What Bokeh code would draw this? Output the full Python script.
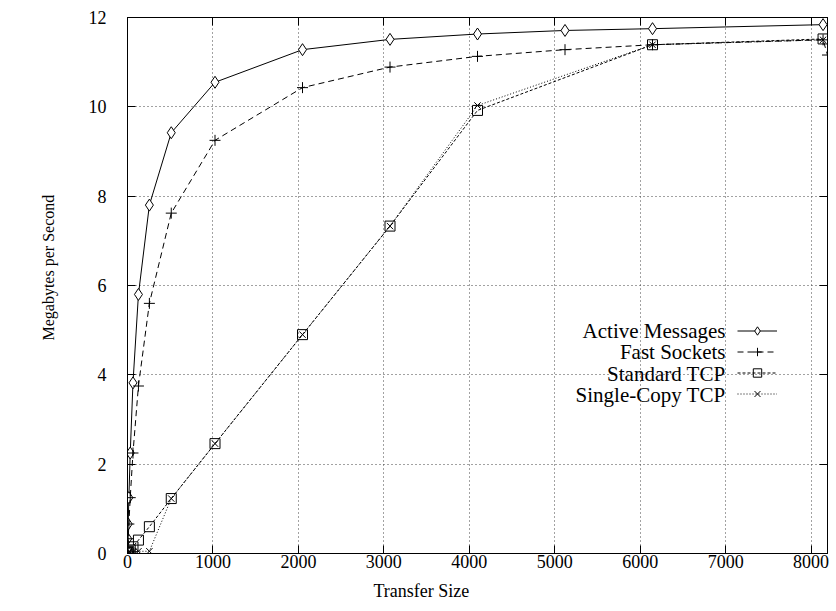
import numpy as np
from bokeh.plotting import figure
from bokeh.models import (Range1d, FixedTicker, LinearAxis, Legend, LegendItem, Label, Title)
from bokeh.embed import file_html
from bokeh.resources import INLINE

# ---- data ----
am_size = [4, 8, 16, 32, 64, 128, 256, 512, 1024, 2048, 3072, 4096, 5120, 6144, 8140]
am_mbps = [0.33, 0.66, 1.25, 2.25, 3.82, 5.80, 7.80, 9.42, 10.55, 11.28, 11.51, 11.63, 11.71, 11.75, 11.84]

fs_size = [4, 8, 16, 32, 64, 128, 256, 512, 1024, 2048, 3072, 4096, 5120, 6144, 8140, 8192]
fs_mbps = [0.17, 0.33, 0.66, 1.25, 2.25, 3.75, 5.60, 7.62, 9.25, 10.43, 10.89, 11.13, 11.28, 11.39, 11.50, 11.16]

st_size = [4, 8, 16, 32, 64, 128, 256, 512, 1024, 2048, 3072, 4096, 6144, 8140]
st_mbps = [0.01, 0.02, 0.04, 0.08, 0.15, 0.30, 0.60, 1.23, 2.46, 4.90, 7.33, 9.92, 11.39, 11.52]

sc_size = [4, 8, 16, 32, 64, 128, 256, 512, 1024, 2048, 3072, 4096, 6144, 8140]
sc_mbps = [0.01, 0.02, 0.03, 0.03, 0.04, 0.05, 0.05, 1.23, 2.46, 4.90, 7.33, 10.03, 11.39, 11.50]

x_ticks = [0, 1000, 2000, 3000, 4000, 5000, 6000, 7000, 8000]
y_ticks = [0, 2, 4, 6, 8, 10, 12]
series_names = ["Active Messages", "Fast Sockets", "Standard TCP", "Single-Copy TCP"]
x_title = "Transfer Size"
y_title = "Megabytes per Second"

FONT = "Liberation Serif"

p = figure(width=836, height=611, output_backend="svg", toolbar_location=None,
           x_range=Range1d(0, 8192), y_range=Range1d(0, 12),
           min_border_left=127, min_border_right=9, min_border_top=17, min_border_bottom=58)
p.background_fill_color = "white"
p.outline_line_color = "black"
p.outline_line_width = 1

for ax in (p.xaxis[0], p.yaxis[0]):
    ax.major_label_text_font = FONT
    ax.major_tick_in = 8
    ax.major_tick_out = 0
    ax.minor_tick_line_color = None
    ax.axis_line_color = "black"
    ax.major_tick_line_color = "black"
    ax.major_label_text_color = "black"

p.xaxis[0].ticker = FixedTicker(ticks=x_ticks)
p.yaxis[0].ticker = FixedTicker(ticks=y_ticks)
p.xaxis[0].major_label_text_font_size = "18px"
p.yaxis[0].major_label_text_font_size = "18px"
p.xaxis[0].major_label_standoff = 1
p.yaxis[0].major_label_standoff = 21

# mirrored ticks on top and right
for loc in ("above", "right"):
    ax = LinearAxis(ticker=FixedTicker(ticks=x_ticks if loc == "above" else y_ticks))
    ax.major_label_text_font_size = "0px"
    ax.major_label_standoff = 0
    ax.major_tick_in = 8
    ax.major_tick_out = 0
    ax.minor_tick_line_color = None
    ax.axis_line_color = "black"
    ax.major_tick_line_color = "black"
    p.add_layout(ax, loc)

p.xgrid.ticker = FixedTicker(ticks=x_ticks)
p.ygrid.ticker = FixedTicker(ticks=y_ticks)
for g in (p.xgrid[0], p.ygrid[0]):
    g.grid_line_color = "#444444"
    g.grid_line_dash = "1 3"
    g.grid_line_width = 1

# axis titles, placed off-centre as in the reference
p.add_layout(Title(text=x_title, align="left", offset=246, standoff=17,
                   text_font=FONT, text_font_size="18px", text_font_style="normal",
                   text_color="black"), "below")
p.add_layout(Title(text=y_title, align="left", offset=213, standoff=57,
                   text_font=FONT, text_font_size="16px", text_font_style="normal",
                   text_color="black"), "left")

# ---- series ----
l1 = p.line(am_size, am_mbps, line_color="black", line_width=1)
m1 = p.scatter(am_size, am_mbps, marker="diamond", size=12,
               line_color="black", fill_color="white", line_width=1)

l2 = p.line(fs_size, fs_mbps, line_color="black", line_width=1, line_dash="6 4")
m2 = p.scatter(fs_size, fs_mbps, marker="cross", size=11, line_color="black", line_width=1)

l3 = p.line(st_size, st_mbps, line_color="black", line_width=1, line_dash="3 2")
m3 = p.scatter(st_size, st_mbps, marker="square", size=10, line_color="black",
               fill_color="white", fill_alpha=0.0, line_width=1)

l4 = p.line(sc_size, sc_mbps, line_color="black", line_width=1, line_dash="1 2")
m4 = p.scatter(sc_size, sc_mbps, marker="x", size=9, line_color="black", line_width=1)

# legend: glyph samples (right), text labels placed to their left
legend = Legend(items=[LegendItem(label=" ", renderers=[l1, m1]),
                       LegendItem(label=" ", renderers=[l2, m2]),
                       LegendItem(label=" ", renderers=[l3, m3]),
                       LegendItem(label=" ", renderers=[l4, m4])],
                location=(610, 149), glyph_width=40, glyph_height=21,
                label_height=21, label_width=1, label_standoff=0, spacing=0,
                padding=0, margin=0, label_text_font_size="1px",
                background_fill_alpha=0.0, border_line_alpha=0.0)
p.add_layout(legend, "center")

row_y = [223, 201.5, 180, 158.5]
for name, yy in zip(series_names, row_y):
    p.add_layout(Label(x=598, y=yy, x_units="screen", y_units="screen", text=name,
                       text_align="right", text_baseline="middle",
                       text_font=FONT, text_font_size="21px", text_color="black"))

open("out.html", "w").write(file_html(p, INLINE))
